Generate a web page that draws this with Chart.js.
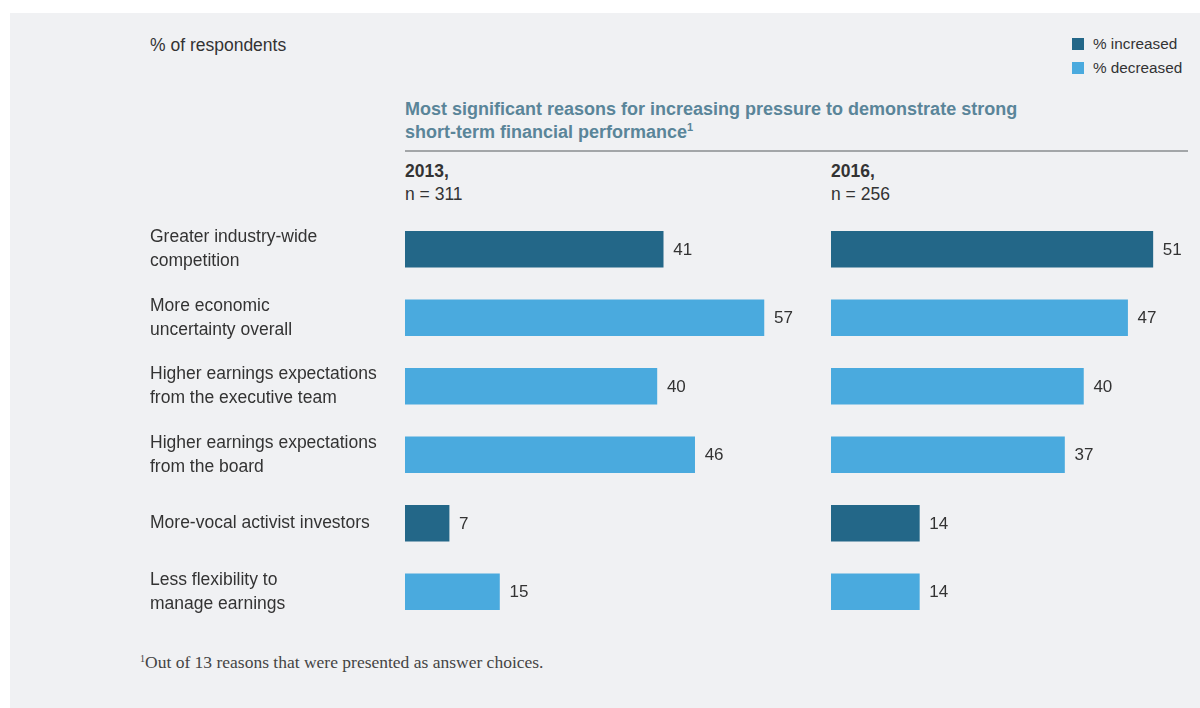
<!DOCTYPE html>
<html>
<head>
<meta charset="utf-8">
<script src="https://cdn.jsdelivr.net/npm/chart.js@4.4.1/dist/chart.umd.min.js"></script>
<style>
  html, body { margin: 0; padding: 0; background: #ffffff; width: 1200px; height: 708px; overflow: hidden; }
  #panel { position: absolute; left: 10px; top: 13px; width: 1190px; height: 695px; background: #f0f1f3; }
  .t { position: absolute; font-family: "Liberation Sans", Arial, sans-serif; color: #333; white-space: nowrap; }
  .title { color: #5a8599; font-weight: bold; font-size: 18px; line-height: 23px; }
  .yr { font-size: 17.5px; line-height: 23px; }
  .rule { position: absolute; left: 405px; top: 150px; width: 783px; height: 2px; background: #a3a6a8; }
  .sw { position: absolute; width: 12px; height: 12px; }
  .lg { font-size: 15.3px; }
  .foot { position: absolute; font-family: "Liberation Serif", "DejaVu Serif", serif; color: #444; font-size: 17.5px; white-space: nowrap; }
  .cw { position: absolute; }
</style>
</head>
<body>
<div id="panel"></div>
<div class="t" style="left:150px; top:35px; font-size:17.5px;">% of respondents</div>

<div class="sw" style="left:1072px; top:38px; background:#236788;"></div>
<div class="t lg" style="left:1093px; top:35px;">% increased</div>
<div class="sw" style="left:1072px; top:62px; background:#4aaade;"></div>
<div class="t lg" style="left:1093px; top:59px;">% decreased</div>

<div class="t title" style="left:405px; top:98px;">Most significant reasons for increasing pressure to demonstrate strong<br>short-term financial performance<sup style="font-size:11px; vertical-align: 7px; line-height:0;">1</sup></div>
<div class="rule"></div>

<div class="t yr" style="left:405px; top:160px;"><b>2013,</b><br>n = 311</div>
<div class="t yr" style="left:831px; top:160px;"><b>2016,</b><br>n = 256</div>

<div class="cw" style="left:150px; top:215px; width:658px; height:411px;"><canvas id="c1"></canvas></div>
<div class="cw" style="left:831px; top:215px; width:366px; height:411px;"><canvas id="c2"></canvas></div>

<div class="foot" style="left:140px; top:652px;"><sup style="font-size:10px; vertical-align:6px; line-height:0;">1</sup>Out of 13 reasons that were presented as answer choices.</div>

<script>
const categories = [
  ["Greater industry-wide", "competition"],
  ["More economic", "uncertainty overall"],
  ["Higher earnings expectations", "from the executive team"],
  ["Higher earnings expectations", "from the board"],
  ["More-vocal activist investors"],
  ["Less flexibility to", "manage earnings"]
];
const values2013 = [41, 57, 40, 46, 7, 15];
const values2016 = [51, 47, 40, 37, 14, 14];
// which reasons are "% increased" (dark) vs "% decreased" (light)
const direction = ["increased", "decreased", "decreased", "decreased", "increased", "decreased"];

const DARK = "#236788";
const LIGHT = "#4aaade";
const barColors = direction.map(d => d === "increased" ? DARK : LIGHT);

const valueLabels = {
  id: "valueLabels",
  afterDatasetsDraw(chart) {
    const ctx = chart.ctx;
    ctx.save();
    ctx.font = "17px 'Liberation Sans', Arial, sans-serif";
    ctx.fillStyle = "#333";
    ctx.textAlign = "left";
    ctx.textBaseline = "middle";
    chart.data.datasets.forEach((ds, di) => {
      chart.getDatasetMeta(di).data.forEach((bar, i) => {
        ctx.fillText(String(ds.data[i]), bar.x + 10, bar.y + 1);
      });
    });
    ctx.restore();
  }
};

function makeChart(id, data, maxVal, showLabels) {
  return new Chart(document.getElementById(id), {
    type: "bar",
    data: {
      labels: categories,
      datasets: [{
        data: data,
        backgroundColor: barColors,
        borderWidth: 0,
        barThickness: 36
      }]
    },
    options: {
      indexAxis: "y",
      responsive: true,
      maintainAspectRatio: false,
      animation: false,
      layout: { padding: 0 },
      plugins: { legend: { display: false }, tooltip: { enabled: false } },
      scales: {
        x: { display: false, min: 0, max: maxVal, grid: { display: false } },
        y: {
          display: showLabels,
          grid: { display: false, drawTicks: false },
          border: { display: false },
          ticks: {
            crossAlign: "far",
            padding: 0,
            color: "#333",
            font: { family: "'Liberation Sans', Arial, sans-serif", size: 17.5, lineHeight: 1.37 }
          },
          afterFit(scale) {
            if (!showLabels) { scale.width = 0; scale.paddingTop = 0; scale.paddingBottom = 0; return; }
            scale.width = 255;
            scale.paddingTop = 0;
            scale.paddingBottom = 0;
          }
        }
      }
    },
    plugins: [valueLabels]
  });
}

makeChart("c1", values2013, 64, true);
makeChart("c2", values2016, 58, false);
</script>
</body>
</html>
